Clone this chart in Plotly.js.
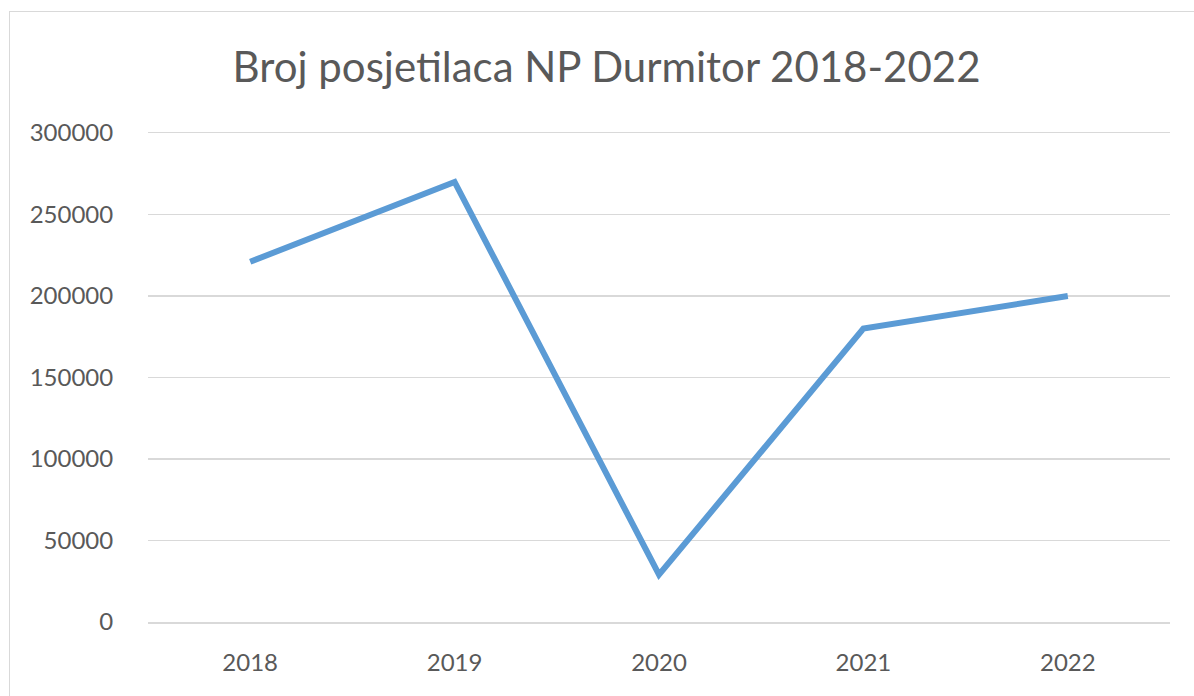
<!DOCTYPE html>
<html>
<head>
<meta charset="utf-8">
<script src="https://cdn.plot.ly/plotly-3.0.1.min.js"></script>
<style>
html,body{margin:0;padding:0;background:#fff;}
#wrap{position:relative;width:1194px;height:696px;overflow:hidden;}
#frame{position:absolute;left:9px;top:11px;width:1300px;height:800px;border-left:1.5px solid #d9d9d9;border-top:1.5px solid #d9d9d9;pointer-events:none;}
#chart{position:absolute;left:0;top:0;width:1194px;height:696px;}
</style>
</head>
<body>
<div id="wrap">
<div id="chart"></div>
<div id="frame"></div>
</div>
<script>
const years = ['2018', '2019', '2020', '2021', '2022'];
const visitors = [221000, 270000, 29000, 180000, 200000];
const yTicks = [0, 50000, 100000, 150000, 200000, 250000, 300000];
const chartTitle = 'Broj posjetilaca NP Durmitor 2018-2022';

const trace = {
  x: years,
  y: visitors,
  type: 'scatter',
  mode: 'lines',
  line: {color: '#5b9bd5', width: 6},
  hoverinfo: 'x+y'
};

const layout = {
  width: 1194,
  height: 696,
  margin: {l: 148, r: 24, t: 133, b: 74},
  paper_bgcolor: 'rgba(0,0,0,0)',
  plot_bgcolor: 'rgba(0,0,0,0)',
  showlegend: false,
  font: {family: 'Lato, "Open Sans", sans-serif', color: '#595959'},
  title: {
    text: chartTitle,
    font: {family: 'Lato, "Open Sans", sans-serif', size: 42, color: '#595959'},
    x: 0.508, xanchor: 'center',
    y: 1 - 67/696, yref: 'container', yanchor: 'middle'
  },
  xaxis: {
    type: 'category',
    range: [-0.5, 4.5],
    showgrid: false,
    zeroline: false,
    showline: true, mirror: true,
    linecolor: '#d9d9d9', linewidth: 1.5,
    ticks: 'outside', ticklen: 19, tickcolor: 'rgba(0,0,0,0)',
    tickfont: {size: 24, color: '#595959'},
    fixedrange: true
  },
  yaxis: {
    range: [0, 300000],
    tickvals: yTicks,
    ticktext: yTicks.map(String),
    showgrid: true,
    gridcolor: '#d9d9d9',
    gridwidth: 1.5,
    zeroline: false,
    showline: false,
    ticks: 'outside', ticklen: 29, tickcolor: 'rgba(0,0,0,0)',
    tickfont: {size: 24, color: '#595959'},
    fixedrange: true
  }
};

Plotly.newPlot('chart', [trace], layout, {displayModeBar: false, staticPlot: true});
</script>
</body>
</html>
